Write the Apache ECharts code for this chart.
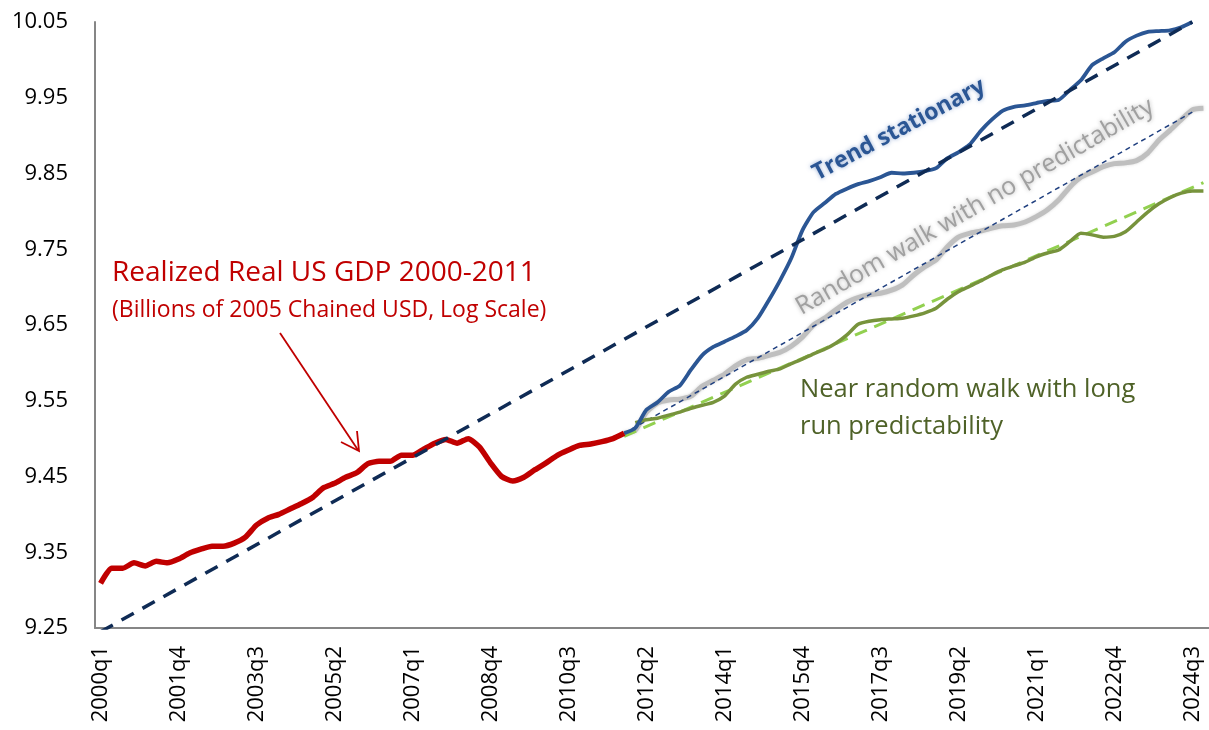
<!DOCTYPE html>
<html>
<head>
<meta charset="utf-8">
<script src="https://cdn.jsdelivr.net/npm/echarts@6/dist/echarts.min.js"></script>
<style>
html,body{margin:0;padding:0;background:#fff;}
#chart{width:1209px;height:730px;}
</style>
</head>
<body>
<div id="chart"></div>
<script>
// ---- categories (2000q1 .. 2024q4) ----
const years = [2000,2001,2002,2003,2004,2005,2006,2007,2008,2009,2010,2011,2012,2013,2014,2015,2016,2017,2018,2019,2020,2021,2022,2023,2024];
const quarters = ['q1','q2','q3','q4'];
const categories = [];
years.forEach(y => quarters.forEach(q => categories.push(y + q)));

// ---- realized log real GDP, 2000q1..2011q4 ----
const realizedStart = 0;
const realized = [9.309, 9.329, 9.329, 9.336, 9.332, 9.338, 9.336, 9.341, 9.349, 9.354, 9.358, 9.358,
  9.362, 9.370, 9.386, 9.395, 9.400, 9.407, 9.414, 9.422, 9.435, 9.441, 9.449, 9.455,
  9.467, 9.470, 9.470, 9.478, 9.478, 9.486, 9.494, 9.499, 9.494, 9.500, 9.489, 9.468,
  9.450, 9.444, 9.449, 9.459, 9.468, 9.478, 9.485, 9.491, 9.493, 9.496, 9.500, 9.507];

// ---- trend stationary path, from 2011q4 ----
const trendStatStart = 47;
const trendStationary = [9.507, 9.514, 9.538, 9.548, 9.562, 9.570, 9.591, 9.610, 9.621, 9.628, 9.635, 9.643,
  9.659, 9.683, 9.709, 9.738, 9.775, 9.799, 9.811, 9.823, 9.830, 9.836, 9.840, 9.845,
  9.851, 9.850, 9.851, 9.853, 9.857, 9.870, 9.878, 9.888, 9.906, 9.921, 9.933, 9.938,
  9.940, 9.943, 9.946, 9.947, 9.960, 9.973, 9.993, 10.002, 10.010, 10.024, 10.032, 10.037,
  10.038, 10.039, 10.043, 10.050];

// ---- random walk path, from 2011q4 ----
const randomWalkStart = 47;
const randomWalk = [9.507, 9.511, 9.535, 9.547, 9.551, 9.552, 9.556, 9.569, 9.577, 9.585, 9.596, 9.604,
  9.606, 9.610, 9.614, 9.622, 9.634, 9.650, 9.659, 9.670, 9.680, 9.686, 9.690, 9.692,
  9.696, 9.703, 9.716, 9.727, 9.736, 9.753, 9.766, 9.771, 9.774, 9.778, 9.781, 9.782,
  9.786, 9.793, 9.802, 9.815, 9.832, 9.845, 9.852, 9.859, 9.863, 9.864, 9.867, 9.877,
  9.894, 9.907, 9.921, 9.934, 9.936];

// ---- near random walk path, from 2012q1 ----
const nearRWStart = 48;
const nearRandomWalk = [9.521, 9.525, 9.527, 9.531, 9.535, 9.540, 9.544, 9.548, 9.556, 9.572, 9.581, 9.585,
  9.589, 9.592, 9.599, 9.605, 9.612, 9.618, 9.626, 9.637, 9.651, 9.655, 9.657, 9.658,
  9.659, 9.662, 9.666, 9.672, 9.684, 9.694, 9.701, 9.708, 9.716, 9.723, 9.728, 9.733,
  9.740, 9.745, 9.749, 9.760, 9.771, 9.769, 9.766, 9.767, 9.773, 9.786, 9.799, 9.810,
  9.818, 9.824, 9.827, 9.827];

// ---- straight trend lines: [index, value] end points ----
const longTrend = [[0, 9.245], [98, 10.05]];
const rwTrend = [[47, 9.507], [98, 9.931]];
const nearRWTrend = [[47, 9.503], [99, 9.838]];

// ---- y tick labels ----
const yMin = 9.25, yMax = 10.05;

function pad(start, arr) { return new Array(start).fill(null).concat(arr); }
function pts(p) { return p.map(d => [categories[d[0]], d[1]]); }

const chart = echarts.init(document.getElementById('chart'), null, {renderer: 'canvas'});
const FONT = '"Open Sans", "Noto Sans", sans-serif';

chart.setOption({
  animation: false,
  backgroundColor: '#ffffff',
  grid: {left: 95, right: 0, top: 22, bottom: 102, containLabel: false},
  xAxis: {
    type: 'category',
    data: categories,
    boundaryGap: true,
    axisLine: {show: true, lineStyle: {color: '#868686', width: 2}},
    axisTick: {show: false},
    axisLabel: {interval: 6, rotate: 90, color: '#000', fontFamily: FONT, fontSize: 22, margin: 18},
    splitLine: {show: false}
  },
  yAxis: {
    type: 'value',
    min: yMin, max: yMax, interval: 0.05,
    axisLine: {show: true, lineStyle: {color: '#868686', width: 2}},
    axisTick: {show: false},
    splitLine: {show: false},
    axisLabel: {
      color: '#000', fontFamily: FONT, fontSize: 22, margin: 27,
      formatter: v => (Math.round(v * 100) % 10 === 5) ? v.toFixed(2) : ''
    }
  },
  series: [
    {name: 'Random walk', type: 'line', data: pad(randomWalkStart, randomWalk), symbol: 'none', smooth: 0.2,
     lineStyle: {color: '#BFBFBF', width: 5, shadowBlur: 3, shadowColor: 'rgba(205,205,205,0.8)'}, z: 2},
    {name: 'RW trend', type: 'line', data: pts(rwTrend), symbol: 'none',
     lineStyle: {color: '#1F3F7F', width: 1.5, type: [5, 4]}, z: 3},
    {name: 'Near RW trend', type: 'line', data: pts(nearRWTrend), symbol: 'none',
     lineStyle: {color: '#92D050', width: 3, type: [13, 8]}, z: 3},
    {name: 'Near random walk', type: 'line', data: pad(nearRWStart, nearRandomWalk), symbol: 'none', smooth: 0.2,
     lineStyle: {color: '#77933C', width: 3.5}, z: 4},
    {name: 'Trend stationary', type: 'line', data: pad(trendStatStart, trendStationary), symbol: 'none', smooth: 0.2,
     lineStyle: {color: '#2B5694', width: 3.8}, z: 5},
    {name: 'Realized', type: 'line', data: pad(realizedStart, realized), symbol: 'none', smooth: 0.2,
     lineStyle: {color: '#C00000', width: 5.5}, z: 6},
    {name: 'Trend', type: 'line', data: pts(longTrend), symbol: 'none',
     lineStyle: {color: '#0F2B55', width: 3.5, type: [14, 10]}, z: 7}
  ],
  graphic: [
    {type: 'text', x: 112, y: 273, style: {text: 'Realized Real US GDP 2000-2011', fill: '#C00000', font: '28px ' + FONT, textAlign: 'left', textVerticalAlign: 'middle'}},
    {type: 'text', x: 112, y: 310, style: {text: '(Billions of 2005 Chained USD, Log Scale)', fill: '#C00000', font: '23px ' + FONT, textAlign: 'left', textVerticalAlign: 'middle'}},
    {type: 'polyline', shape: {points: [[280, 333], [358, 450]]}, style: {stroke: '#C00000', lineWidth: 1.8, fill: null}},
    {type: 'polyline', shape: {points: [[341, 442], [359, 451], [357, 431]]}, style: {stroke: '#C00000', lineWidth: 1.8, fill: null}},
    {type: 'text', x: 899, y: 130, rotation: 28 * Math.PI / 180,
     style: {text: 'Trend stationary', fill: '#2B5694', font: 'bold 23px ' + FONT, textAlign: 'center', textVerticalAlign: 'middle',
             textShadowBlur: 4, textShadowColor: 'rgba(120,150,200,0.8)'}},
    {type: 'text', x: 975, y: 207, rotation: 30 * Math.PI / 180,
     style: {text: 'Random walk with no predictability', fill: '#A0A0A0', font: '25px ' + FONT, textAlign: 'center', textVerticalAlign: 'middle',
             textShadowBlur: 4, textShadowColor: 'rgba(160,160,160,0.8)'}},
    {type: 'text', x: 800, y: 390, style: {text: 'Near random walk with long', fill: '#4F6228', font: '25.5px ' + FONT, textAlign: 'left', textVerticalAlign: 'middle'}},
    {type: 'text', x: 800, y: 427, style: {text: 'run predictability', fill: '#4F6228', font: '25.5px ' + FONT, textAlign: 'left', textVerticalAlign: 'middle'}}
  ]
});
</script>
</body>
</html>
